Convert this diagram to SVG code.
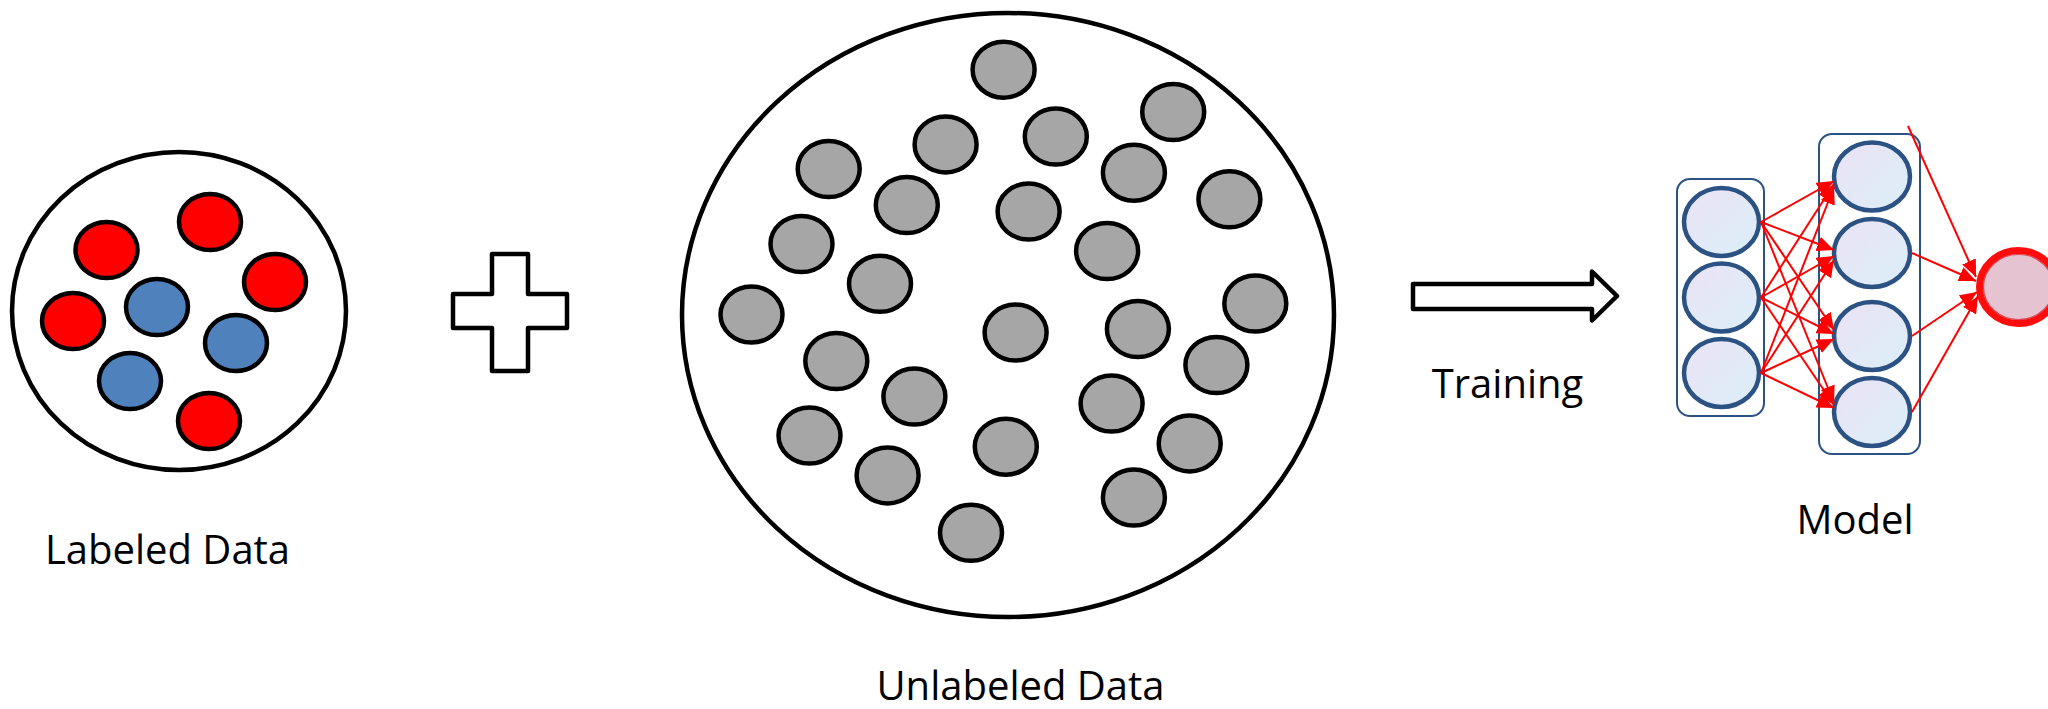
<svg xmlns="http://www.w3.org/2000/svg" width="2048" height="709" viewBox="0 0 2048 709">
<style>
.big{fill:#fff;stroke:#000;stroke-width:4.5}
.dot{stroke:#000;stroke-width:4.5}
.red{fill:#ff0000}
.blue{fill:#4f81bd}
.gray{fill:#a6a6a6}
.lbl{font-family:"Open Sans","Liberation Sans",sans-serif;font-size:40px;fill:#000;text-anchor:middle}
.box{fill:none;stroke:#2b5283;stroke-width:2}
.neuron{fill:url(#ng);stroke:#2b5283;stroke-width:4.5}
.edge{stroke:#ff0000;stroke-width:2;fill:none;marker-end:url(#ah)}
</style>
<defs>
<linearGradient id="ng" x1="0" y1="0" x2="1" y2="1">
<stop offset="0" stop-color="#ebe2f6"/>
<stop offset="1" stop-color="#dbeff8"/>
</linearGradient>
<marker id="ah" markerUnits="userSpaceOnUse" markerWidth="17" markerHeight="15" refX="17" refY="7.5" orient="auto">
<path d="M0,0 L17,7.5 L0,15 z" fill="#ff0000"/>
</marker>
</defs>
<rect width="2048" height="709" fill="#fff"/>

<g id="labeled-data">
<ellipse class="big" cx="179" cy="311" rx="167" ry="159"/>
<ellipse class="dot red" cx="106.5" cy="250" rx="31" ry="28"/>
<ellipse class="dot red" cx="210" cy="222" rx="31" ry="28"/>
<ellipse class="dot red" cx="275" cy="282" rx="31" ry="28"/>
<ellipse class="dot red" cx="73" cy="321" rx="31" ry="28"/>
<ellipse class="dot blue" cx="157" cy="307" rx="31" ry="28"/>
<ellipse class="dot blue" cx="236" cy="343" rx="31" ry="28"/>
<ellipse class="dot blue" cx="130" cy="381" rx="31" ry="28"/>
<ellipse class="dot red" cx="209" cy="421" rx="31" ry="28"/>
<text class="lbl" x="167.5" y="564">Labeled Data</text>
</g>

<g id="plus">
<path d="M492,254 H528 V294 H567 V328 H528 V371 H492 V328 H453 V294 H492 Z" fill="#fff" stroke="#000" stroke-width="4.5" stroke-linejoin="round"/>
</g>

<g id="unlabeled-data">
<ellipse class="big" cx="1008" cy="315" rx="326" ry="302"/>
<ellipse class="dot gray" cx="1003.6" cy="69.7" rx="31" ry="28"/>
<ellipse class="dot gray" cx="1173.2" cy="112" rx="31" ry="28"/>
<ellipse class="dot gray" cx="945.6" cy="144.4" rx="31" ry="28"/>
<ellipse class="dot gray" cx="1055.8" cy="136.6" rx="31" ry="28"/>
<ellipse class="dot gray" cx="828.7" cy="169" rx="31" ry="28"/>
<ellipse class="dot gray" cx="1133.9" cy="172.7" rx="31" ry="28"/>
<ellipse class="dot gray" cx="906.8" cy="205.1" rx="31" ry="28"/>
<ellipse class="dot gray" cx="1028.6" cy="211.6" rx="31" ry="28"/>
<ellipse class="dot gray" cx="1229.4" cy="199.3" rx="31" ry="28"/>
<ellipse class="dot gray" cx="801.5" cy="244" rx="31" ry="28"/>
<ellipse class="dot gray" cx="1107.1" cy="251" rx="31" ry="28"/>
<ellipse class="dot gray" cx="880" cy="283.8" rx="31" ry="28"/>
<ellipse class="dot gray" cx="751.5" cy="314.6" rx="31" ry="28"/>
<ellipse class="dot gray" cx="1255.3" cy="303.5" rx="31" ry="28"/>
<ellipse class="dot gray" cx="1015.6" cy="332.6" rx="31" ry="28"/>
<ellipse class="dot gray" cx="1137.9" cy="329" rx="31" ry="28"/>
<ellipse class="dot gray" cx="836.3" cy="361" rx="31" ry="28"/>
<ellipse class="dot gray" cx="1216.4" cy="365" rx="31" ry="28"/>
<ellipse class="dot gray" cx="914.4" cy="396.6" rx="31" ry="28"/>
<ellipse class="dot gray" cx="1111.6" cy="403.6" rx="31" ry="28"/>
<ellipse class="dot gray" cx="809.5" cy="435.6" rx="31" ry="28"/>
<ellipse class="dot gray" cx="1189.7" cy="443.4" rx="31" ry="28"/>
<ellipse class="dot gray" cx="1005.8" cy="446.7" rx="31" ry="28"/>
<ellipse class="dot gray" cx="887.6" cy="475.4" rx="31" ry="28"/>
<ellipse class="dot gray" cx="1133.9" cy="497.5" rx="31" ry="28"/>
<ellipse class="dot gray" cx="971" cy="532.8" rx="31" ry="28"/>
<text class="lbl" x="1020.5" y="700">Unlabeled Data</text>
</g>

<g id="training-arrow">
<path d="M1413,284 H1592 V271.5 L1617,296 L1592,320.5 V309 H1413 Z" fill="#fff" stroke="#000" stroke-width="4.5" stroke-linejoin="round"/>
<text class="lbl" x="1507.5" y="398">Training</text>
</g>

<g id="model">
<g id="input-layer">
<rect class="box" x="1677" y="179" width="87" height="237" rx="13"/>
<ellipse class="neuron" cx="1721.5" cy="222" rx="37.5" ry="34"/>
<ellipse class="neuron" cx="1721.5" cy="297.5" rx="37.5" ry="34"/>
<ellipse class="neuron" cx="1721.5" cy="373" rx="37.5" ry="34"/>
</g>
<g id="hidden-layer">
<rect class="box" x="1819" y="134" width="101" height="320" rx="13"/>
<ellipse class="neuron" cx="1872" cy="176.5" rx="38" ry="34"/>
<ellipse class="neuron" cx="1872" cy="253" rx="38" ry="34"/>
<ellipse class="neuron" cx="1872" cy="336" rx="38" ry="34"/>
<ellipse class="neuron" cx="1872" cy="412" rx="38" ry="34"/>
</g>
<g id="output-node">
<ellipse cx="2018.5" cy="287" rx="39" ry="36.5" fill="#e6c3d0" stroke="#ff0d0d" stroke-width="7"/>
<ellipse cx="2018.5" cy="287" rx="35" ry="32.5" fill="none" stroke="#d81a2a" stroke-width="1.2" opacity="0.7"/>
</g>
<text class="lbl" x="1855" y="534">Model</text>
</g>

<g id="connectors">
<line class="edge" x1="1761" y1="222" x2="1834" y2="181"/>
<line class="edge" x1="1761" y1="297.5" x2="1834" y2="184"/>
<line class="edge" x1="1761" y1="373" x2="1834" y2="187"/>
<line class="edge" x1="1761" y1="222" x2="1834" y2="250"/>
<line class="edge" x1="1761" y1="297.5" x2="1834" y2="256"/>
<line class="edge" x1="1761" y1="373" x2="1834" y2="260"/>
<line class="edge" x1="1761" y1="222" x2="1834" y2="330"/>
<line class="edge" x1="1761" y1="297.5" x2="1834" y2="334"/>
<line class="edge" x1="1761" y1="373" x2="1834" y2="339"/>
<line class="edge" x1="1761" y1="222" x2="1834" y2="403"/>
<line class="edge" x1="1761" y1="297.5" x2="1834" y2="405"/>
<line class="edge" x1="1761" y1="373" x2="1834" y2="408"/>
<line class="edge" x1="1908" y1="126" x2="1976" y2="277"/>
<line class="edge" x1="1912" y1="253" x2="1976" y2="281"/>
<line class="edge" x1="1912" y1="336" x2="1977" y2="292"/>
<line class="edge" x1="1912" y1="412" x2="1978" y2="296"/>
</g>
</svg>
